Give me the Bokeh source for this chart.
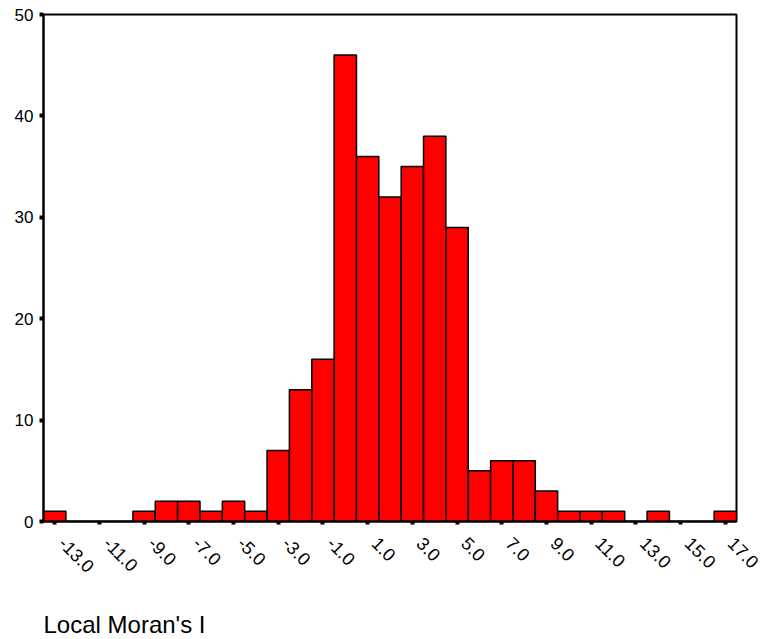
import math
from bokeh.plotting import figure
from bokeh.models import ColumnDataSource, FixedTicker, Title, Range1d
from bokeh.embed import file_html
from bokeh.resources import INLINE

# Histogram of Local Moran's I (bin centres, width 1)
bin_centers = list(range(-13, 18))
counts = [1, 0, 0, 0, 1, 2, 2, 1, 2, 1,
          7, 13, 16, 46, 36, 32, 35, 38, 29, 5,
          6, 6, 3, 1, 1, 1, 0, 1, 0, 0, 1]
x_tick_values = list(range(-13, 18, 2))
x_tick_labels = ["%.1f" % v for v in x_tick_values]
y_tick_values = [0, 10, 20, 30, 40, 50]
x_title = "Local Moran's I"

src = ColumnDataSource(dict(x=bin_centers, top=counts))

p = figure(width=762, height=637, output_backend="svg", toolbar_location=None,
           x_range=Range1d(-13.5, 17.5), y_range=Range1d(0, 50),
           min_border_left=43, min_border_top=14, min_border_right=26,
           min_border_bottom=116)
p.vbar(x="x", top="top", bottom=0, width=1.0, source=src,
       fill_color="#ff0000", line_color="black", line_width=1.5)

p.xgrid.visible = False
p.ygrid.visible = False
p.outline_line_color = "black"
p.outline_line_width = 2
p.background_fill_color = "white"
p.border_fill_color = "white"

font = "Liberation Sans"

xa = p.xaxis[0]
xa.ticker = FixedTicker(ticks=x_tick_values)
# leading no-break spaces push the slanted labels along their diagonal
xa.major_label_overrides = {v: "\u00a0\u00a0" + l for v, l in zip(x_tick_values, x_tick_labels)}
xa.major_label_orientation = -math.pi / 4
xa.major_label_text_font = font
xa.major_label_text_font_size = "18px"
xa.major_label_text_color = "black"
xa.axis_line_width = 2
xa.axis_line_color = "black"
xa.major_tick_in = 0
xa.major_tick_out = 3
xa.major_tick_line_width = 4
xa.minor_tick_line_color = None
xa.major_label_standoff = 9
# invisible spacer that pushes the title down
xa.axis_label = " "
xa.axis_label_text_font_size = "1px"
xa.axis_label_standoff = 18

ya = p.yaxis[0]
ya.ticker = FixedTicker(ticks=y_tick_values)
ya.major_label_text_font = font
ya.major_label_text_font_size = "17px"
ya.major_label_text_color = "black"
ya.axis_line_width = 2
ya.axis_line_color = "black"
ya.major_tick_in = 0
ya.major_tick_out = 4
ya.major_tick_line_width = 4
ya.minor_tick_line_color = None
ya.major_label_standoff = 6

t = Title(text=x_title, align="left", text_font=font, text_font_size="24px",
          text_font_style="normal", text_color="black", standoff=0,
          vertical_align="bottom")
p.add_layout(t, "below")

open("out.html", "w").write(file_html(p, INLINE))
